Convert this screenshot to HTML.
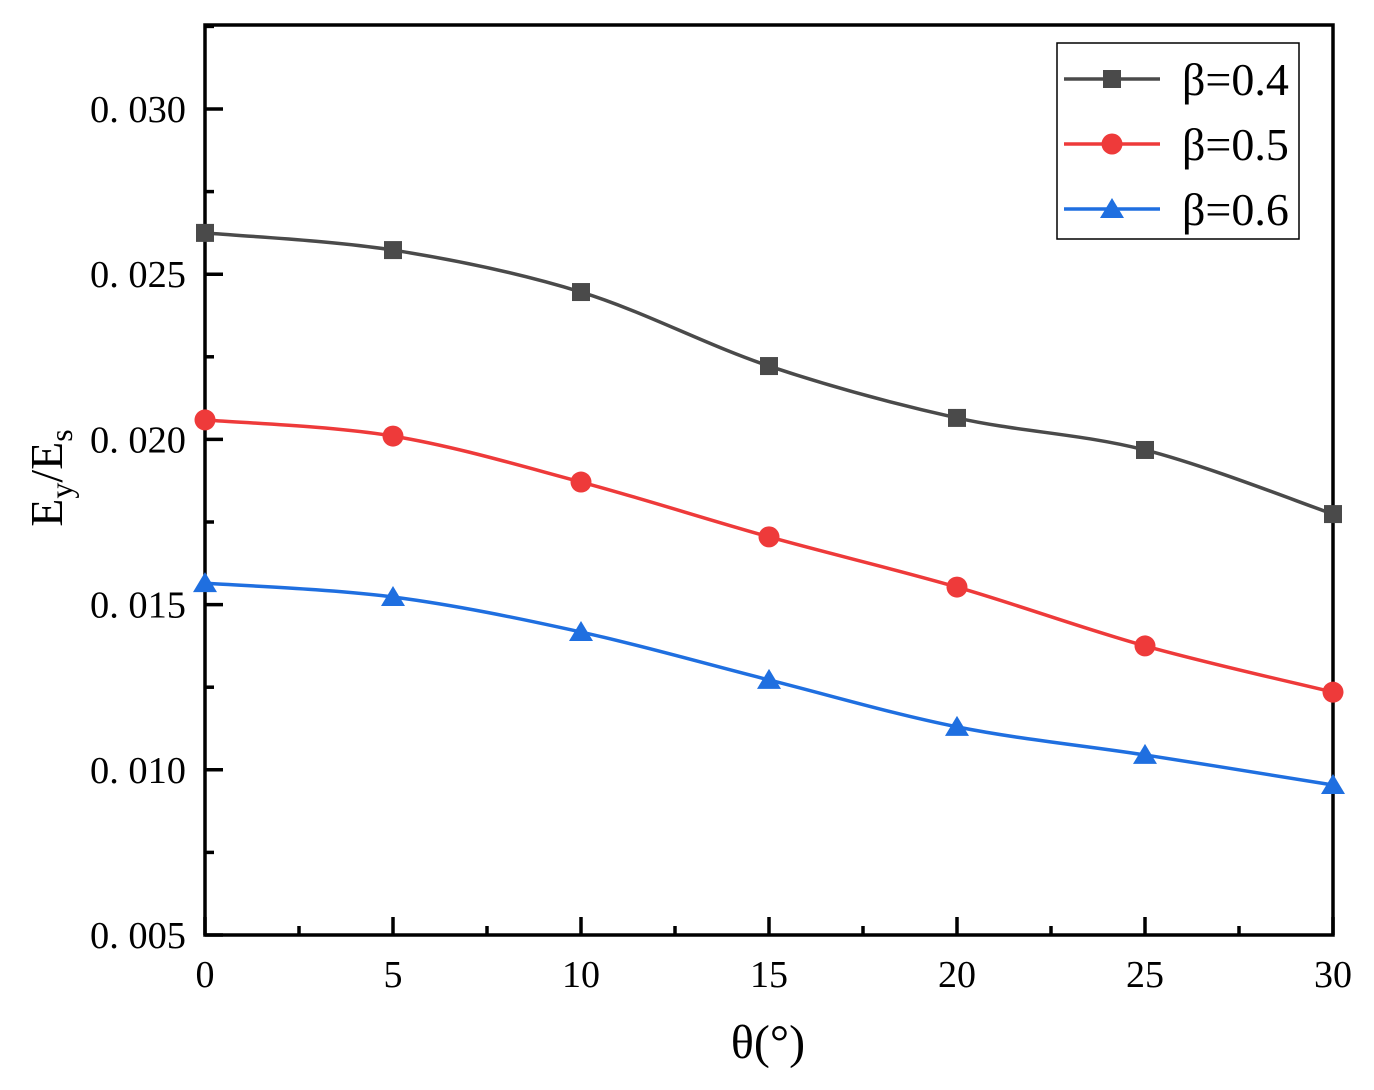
<!DOCTYPE html>
<html><head><meta charset="utf-8"><style>
html,body{margin:0;padding:0;background:#fff;}
svg text{font-family:"Liberation Serif","DejaVu Serif",serif;fill:#000;}
</style></head><body>
<svg id="chart" width="1374" height="1085" viewBox="0 0 1374 1085" xmlns="http://www.w3.org/2000/svg">
<g id="plot"></g>
</svg>
<script>
const xCategories = [0, 5, 10, 15, 20, 25, 30];
const series04 = [0.02625, 0.02573, 0.02446, 0.02222, 0.02065, 0.01968, 0.01774];
const series05 = [0.02059, 0.0201, 0.01871, 0.01705, 0.01553, 0.01375, 0.01235];
const series06 = [0.01565, 0.01523, 0.01417, 0.01272, 0.0113, 0.01045, 0.00954];
const seriesNames = ['β=0.4', 'β=0.5', 'β=0.6'];
const xTickLabels = ['0', '5', '10', '15', '20', '25', '30'];
const yTickValues = [0.005, 0.010, 0.015, 0.020, 0.025, 0.030];
const yTickLabels = ['0. 005', '0. 010', '0. 015', '0. 020', '0. 025', '0. 030'];

const L=205,R=1333,T=25,B=935;
const xMin=0,xMax=30,yMin=0.005,yMax=0.030+84/33040;
const sx=v=>L+(v-xMin)/(xMax-xMin)*(R-L);
const sy=v=>B-(v-yMin)/(yMax-yMin)*(B-T);
const NS='http://www.w3.org/2000/svg';
const g=document.getElementById('plot');
function mk(tag,attrs,parent){const e=document.createElementNS(NS,tag);for(const k in attrs)e.setAttribute(k,attrs[k]);(parent||g).appendChild(e);return e;}

for(let v=0; v<=30; v+=2.5){
  const major = Math.abs(v%5)<1e-9;
  const t=mk('line',{x1:sx(v),x2:sx(v),y1:B,y2:B-(major?18:9),stroke:'#000','stroke-width':3.5});
  
  
}
xCategories.forEach((c,i)=>{
  const t=mk('text',{x:sx(c),y:B+52,'text-anchor':'middle','font-size':38});
  t.textContent=xTickLabels[i];
  
  
});
for(let v=yMin; v<=yMax+1e-9; v+=0.0025){
  const major = Math.round(v*10000)%50===0;
  const t=mk('line',{x1:L,x2:L+(major?18:9),y1:sy(v),y2:sy(v),stroke:'#000','stroke-width':3.5});
  
  
}
yTickValues.forEach((v,i)=>{
  const t=mk('text',{x:186,y:sy(v)+13,'text-anchor':'end','font-size':38,textLength:96,lengthAdjust:'spacingAndGlyphs'});
  t.textContent=yTickLabels[i];
  
  
});
const fr=mk('rect',{x:L,y:T,width:R-L,height:B-T,fill:'none',stroke:'#000','stroke-width':3.5});



const xt=mk('text',{x:768,y:1058,'text-anchor':'middle','font-size':48});
xt.textContent='θ(°)';


const yt=mk('text',{transform:'translate(62,478) rotate(-90)','text-anchor':'middle','font-size':46});
yt.innerHTML='E<tspan font-size="32" dy="10">y</tspan><tspan dy="-10">/E</tspan><tspan font-size="32" dy="10">s</tspan>';



function spline(pts){
  let d='M'+pts[0][0]+','+pts[0][1];
  for(let i=0;i<pts.length-1;i++){
    const p0=pts[Math.max(i-1,0)],p1=pts[i],p2=pts[i+1],p3=pts[Math.min(i+2,pts.length-1)];
    const c1=[p1[0]+(p2[0]-p0[0])/6,p1[1]+(p2[1]-p0[1])/6];
    const c2=[p2[0]-(p3[0]-p1[0])/6,p2[1]-(p3[1]-p1[1])/6];
    d+=` C${c1[0]},${c1[1]} ${c2[0]},${c2[1]} ${p2[0]},${p2[1]}`;
  }
  return d;
}
function marker(type,x,y,color,parent){
  let m;
  if(type==='square') m=mk('rect',{x:x-9,y:y-9,width:18,height:18,fill:color},parent);
  else if(type==='circle') m=mk('circle',{cx:x,cy:y,r:10.5,fill:color},parent);
  else m=mk('polygon',{points:`${x},${y-11} ${x+12},${y+9} ${x-12},${y+9}`,fill:color},parent);
  return m;
}
const all=[[series04,'#4a4a4a','square'],[series05,'#ee3a3a','circle'],[series06,'#1f6fe0','triangle']];
all.forEach((s,k)=>{
  const sg=mk('g',{});
  
  
  const pts=xCategories.map((c,i)=>[sx(c),sy(s[0][i])]);
  const p=mk('path',{d:spline(pts),fill:'none',stroke:s[1],'stroke-width':3.5},sg);
  
  
  pts.forEach(q=>{
    const m=marker(s[2],q[0],q[1],s[1],sg);
    
    
  });
});

const lg=mk('g',{});


const lb=mk('rect',{x:1057,y:43,width:242,height:196,fill:'#fff',stroke:'#000','stroke-width':1.5},lg);


all.forEach((s,k)=>{
  const y=79+k*65;
  const eg=mk('g',{},lg);
  
  
  mk('line',{x1:1064,x2:1160,y1:y,y2:y,stroke:s[1],'stroke-width':3.5},eg);
  marker(s[2],1112,y,s[1],eg);
  const t=mk('text',{x:1182,y:y+16,'font-size':46},eg);
  t.textContent=seriesNames[k];
});
</script>
</body></html>
